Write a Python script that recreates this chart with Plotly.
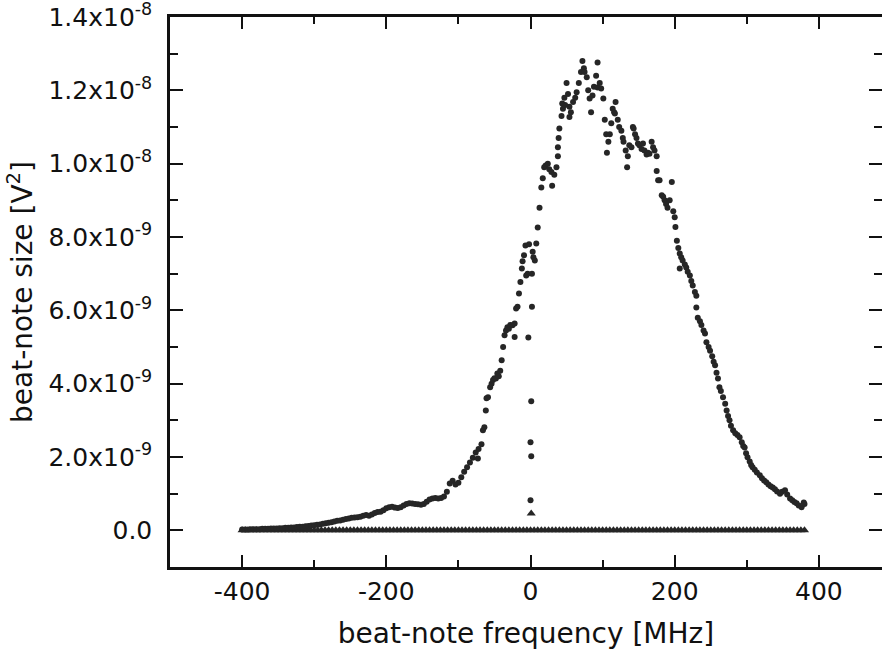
import plotly.graph_objects as go

# ---- data (frequency in MHz, beat-note size in units of 1e-9 V^2) ----
main_freq = [
    -400, -396, -392, -388, -384, -380, -376, -372, -368, -364, -360, -356, -352, -348, -344, -340,
    -336, -332, -328, -324, -320, -316, -312, -308, -304, -300, -296, -292, -288, -284, -280, -276,
    -272, -268, -264, -260, -256, -252, -248, -244, -240, -236, -232, -228, -224, -220, -216, -212,
    -208, -204, -200, -196, -192, -188, -184, -180, -176, -172, -168, -164, -160, -156, -152, -148,
    -144, -140, -136, -132, -128, -124, -120, -116, -112, -108, -104, -100, -96, -92, -88, -84,
    -80, -76, -73, -72, -68, -66, -64, -62, -61, -59, -56, -54, -52, -50, -48, -46, -44, -42, -40,
    -38, -36, -34, -32, -30, -28, -25, -22, -22, -20, -18, -16, -14, -12, -11, -9, -7, -6, -4, -2,
    2, 3, 4, 6, 8, 10, 12.5, 15, 17, 19, 21, 24, 26, 29, 30, 33, 36, 38, 38, 39, 40, 43, 44, 45,
    47, 48, 50, 52, 54, 54, 56, 59, 62, 64, 67, 70, 72, 74, 75, 78, 80, 82, 84, 86, 88, 91, 93, 93,
    96, 98, 101, 103, 105, 106, 108, 110, 112, 114, 116, 117, 118, 121, 123, 126, 128, 129, 132,
    134, 135, 137, 140, 142, 143, 145, 147, 149, 151, 154, 156, 158, 161, 163, 165, 168, 170, 172,
    175, 175, 177, 179, 182, 184, 186, 188, 190, 193, 196, 198, 200, 201, 203, 205, 207, 207, 209,
    211, 214, 216, 218, 221, 223, 225, 228, 230, 230, 232, 235, 237, 240, 242, 244, 247, 249, 252,
    254, 256, 258, 260, 262, 264, 267, 270, 272, 274, 276, 278, 281, 284, 287, 290, 293, 295, 297,
    299, 301, 304, 306, 308, 311, 314, 318, 321, 324, 327, 330, 333, 336, 339, 342, 346, 349, 353,
    356, 360, 363, 366, 369, 372, 376, 379, 380,
]
main_size = [
    0.02, 0.02, 0.02, 0.03, 0.03, 0.03, 0.03, 0.04, 0.04, 0.04, 0.05, 0.05, 0.05, 0.06, 0.06, 0.07,
    0.07, 0.08, 0.08, 0.09, 0.10, 0.10, 0.11, 0.12, 0.13, 0.14, 0.15, 0.16, 0.18, 0.19, 0.21, 0.22,
    0.24, 0.26, 0.27, 0.29, 0.31, 0.32, 0.34, 0.35, 0.36, 0.37, 0.40, 0.42, 0.40, 0.43, 0.47, 0.50,
    0.51, 0.55, 0.60, 0.63, 0.64, 0.62, 0.61, 0.63, 0.68, 0.72, 0.74, 0.73, 0.72, 0.71, 0.70, 0.72,
    0.78, 0.84, 0.87, 0.88, 0.87, 0.88, 0.92, 1.05, 1.28, 1.35, 1.25, 1.30, 1.45, 1.60, 1.72, 1.85,
    1.98, 2.12, 1.96, 2.22, 2.35, 2.73, 2.81, 3.27, 3.60, 3.63, 3.90, 4.00, 4.10, 4.15, 4.14, 4.28, 4.20, 4.35, 4.64,
    5.00, 5.32, 5.45, 5.54, 5.50, 5.60, 5.59, 5.27, 5.64, 6.05, 6.10, 6.46, 6.77, 7.14, 7.34, 7.50, 7.77, 6.95, 7.00, 7.80,
    7.00, 7.60, 7.45, 7.36, 7.82, 8.26, 8.80, 9.35, 9.60, 9.90, 9.95, 10.00, 9.85, 9.77, 9.40, 9.70, 9.90, 10.20, 10.45, 10.70, 10.96, 11.30, 11.64, 11.50,
    11.80, 11.60, 12.20, 11.90, 11.55, 11.27, 11.40, 11.68, 11.80, 11.95, 12.20, 12.50, 12.80, 12.60, 12.50, 12.36, 12.00, 11.78, 11.40, 11.86, 12.10, 12.40, 12.76, 12.08,
    12.20, 12.05, 11.78, 11.20, 10.80, 10.30, 10.60, 10.80, 11.10, 11.50, 11.40, 11.37, 11.68, 11.20, 11.00, 10.90, 10.70, 10.60, 10.36,
    9.90, 10.20, 10.50, 10.45, 11.00, 10.96, 10.80, 10.70, 10.55, 10.50, 10.40, 10.55, 10.36, 10.25, 10.30, 10.27, 10.60, 10.45, 10.36,
    10.20, 9.80, 9.55, 9.55, 9.14, 9.10, 9.00, 8.90, 8.80, 9.00, 9.50, 8.70, 8.54, 8.27, 7.90, 7.70, 7.55, 7.14, 7.45,
    7.36, 7.25, 7.17, 7.05, 6.95, 6.80, 6.68, 6.50, 6.40, 6.08, 5.80, 5.70, 5.60, 5.45, 5.37, 5.13, 5.00, 4.90, 4.75,
    4.60, 4.50, 4.30, 4.14, 3.90, 3.80, 3.63, 3.45, 3.27, 3.12, 3.00, 2.85, 2.73, 2.65, 2.60, 2.54, 2.40, 2.30, 2.26,
    2.10, 1.99, 1.88, 1.78, 1.72, 1.65, 1.58, 1.50, 1.42, 1.36, 1.31, 1.25, 1.20, 1.17, 1.12, 1.06, 1.00, 1.05, 1.09,
    0.98, 0.87, 0.82, 0.77, 0.74, 0.68, 0.63, 0.76, 0.72,
]

# stray points near zero detuning
center_freq = [2, -3, 1, 0, 1, 0]
center_size = [6.10, 5.26, 3.52, 2.40, 2.02, 0.82]

# reference (background) trace, triangles along zero
base_freq = [
    -400, -395, -390, -385, -380, -375, -370, -365, -360, -355, -350, -345, -340, -335, -330, -325,
    -320, -315, -310, -305, -300, -295, -290, -285, -280, -275, -270, -265, -260, -255, -250, -245,
    -240, -235, -230, -225, -220, -215, -210, -205, -200, -195, -190, -185, -180, -175, -170, -165,
    -160, -155, -150, -145, -140, -135, -130, -125, -120, -115, -110, -105, -100, -95, -90, -85,
    -80, -75, -70, -65, -60, -55, -50, -45, -40, -35, -30, -25, -20, -15, -10, -5, 0, 1, 5, 10,
    15, 20, 25, 30, 35, 40, 45, 50, 55, 60, 65, 70, 75, 80, 85, 90, 95, 100, 105, 110, 115, 120,
    125, 130, 135, 140, 145, 150, 155, 160, 165, 170, 175, 180, 185, 190, 195, 200, 205, 210, 215,
    220, 225, 230, 235, 240, 245, 250, 255, 260, 265, 270, 275, 280, 285, 290, 295, 300, 305, 310,
    315, 320, 325, 330, 335, 340, 345, 350, 355, 360, 365, 370, 375, 380,
]
base_size = [
    0, 0, 0, 0, 0, 0, 0, 0, 0, 0, 0, 0, 0, 0, 0, 0,
    0, 0, 0, 0, 0, 0, 0, 0, 0, 0, 0, 0, 0, 0, 0, 0,
    0, 0, 0, 0, 0, 0, 0, 0, 0, 0, 0, 0, 0, 0, 0, 0,
    0, 0, 0, 0, 0, 0, 0, 0, 0, 0, 0, 0, 0, 0, 0, 0,
    0, 0, 0, 0, 0, 0, 0, 0, 0, 0, 0, 0, 0, 0, 0, 0, 0, 0.46, 0, 0,
    0, 0, 0, 0, 0, 0, 0, 0, 0, 0, 0, 0, 0, 0, 0, 0, 0, 0, 0, 0, 0, 0,
    0, 0, 0, 0, 0, 0, 0, 0, 0, 0, 0, 0, 0, 0, 0, 0, 0, 0, 0,
    0, 0, 0, 0, 0, 0, 0, 0, 0, 0, 0, 0, 0, 0, 0, 0, 0, 0, 0,
    0, 0, 0, 0, 0, 0, 0, 0, 0, 0, 0, 0, 0, 0,
]

x_tickvals = [-400, -200, 0, 200, 400]
x_ticktext = ["-400", "-200", "0", "200", "400"]
y_tickvals = [0, 2, 4, 6, 8, 10, 12, 14]
y_ticktext = ["0.0", "2.0x10<sup>-9</sup>", "4.0x10<sup>-9</sup>", "6.0x10<sup>-9</sup>",
              "8.0x10<sup>-9</sup>", "1.0x10<sup>-8</sup>", "1.2x10<sup>-8</sup>", "1.4x10<sup>-8</sup>"]

INK = "#262626"
FONT = "DejaVu Sans, Arial, sans-serif"

fig = go.Figure()
fig.add_trace(go.Scatter(x=base_freq, y=base_size, mode="markers",
                         marker=dict(symbol="triangle-up", size=8, color=INK, line=dict(width=0)),
                         showlegend=False))
fig.add_trace(go.Scatter(x=main_freq, y=main_size, mode="markers",
                         marker=dict(symbol="circle", size=6, color=INK, line=dict(width=0)),
                         showlegend=False))
fig.add_trace(go.Scatter(x=center_freq, y=center_size, mode="markers",
                         marker=dict(symbol="circle", size=6, color=INK, line=dict(width=0)),
                         showlegend=False))
# empty trace to hold the right-hand tick axis
fig.add_trace(go.Scatter(x=[], y=[], yaxis="y2", showlegend=False))

axis_common = dict(showgrid=False, zeroline=False, ticks="inside", tickwidth=2,
                   tickcolor="#111", tickfont=dict(family=FONT, size=25, color="#111"),
                   ticklabeloverflow="allow")

Y_RANGE = [-1, 14]

fig.update_layout(
    width=882, height=656,
    margin=dict(l=170, r=0, t=17, b=89),
    paper_bgcolor="white", plot_bgcolor="white",
    xaxis=dict(range=[-500, 487.5], tickvals=x_tickvals, ticktext=x_ticktext, ticklen=12,
               showline=True, linecolor="#111", linewidth=2.5, mirror="ticks",
               minor=dict(ticks="inside", dtick=100, tick0=0, ticklen=7, tickwidth=2, tickcolor="#111"),
               title=dict(text="beat-note frequency [MHz]", font=dict(family=FONT, size=28, color="#111"),
                          standoff=19),
               **axis_common),
    yaxis=dict(range=Y_RANGE, tickvals=y_tickvals, ticktext=y_ticktext, ticklen=13,
               showline=True, linecolor="#111", linewidth=2.5,
               minor=dict(ticks="inside", dtick=1, tick0=0, ticklen=8, tickwidth=2, tickcolor="#111"),
               title=dict(text="beat-note size [V<sup>2</sup>]", font=dict(family=FONT, size=28, color="#111"),
                          standoff=8),
               ticklabelstandoff=10,
               **axis_common),
    yaxis2=dict(range=Y_RANGE, overlaying="y", side="right", tickvals=y_tickvals,
                showticklabels=False, showline=False, ticks="inside", ticklen=13, tickwidth=2,
                tickcolor="#111", showgrid=False, zeroline=False,
                minor=dict(ticks="inside", dtick=1, tick0=0, ticklen=8, tickwidth=2, tickcolor="#111")),
)

fig.write_html("out.html")
